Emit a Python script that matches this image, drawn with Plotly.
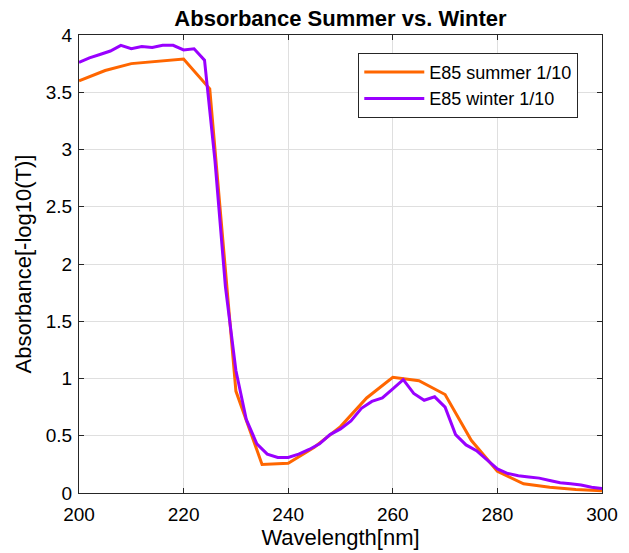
import plotly.graph_objects as go

summer_x = [200, 205, 210, 215, 220, 225, 230, 235, 240, 245, 250, 255, 260, 265, 270, 275, 280, 285, 290, 295, 300]
summer_y = [3.60, 3.69, 3.75, 3.77, 3.79, 3.53, 0.89, 0.25, 0.26, 0.40, 0.58, 0.83, 1.01, 0.98, 0.86, 0.46, 0.19, 0.08, 0.05, 0.03, 0.02]

winter_x = [200, 202, 204, 206, 208, 210, 212, 214, 216, 218, 220, 222, 224, 226, 228, 230,
            232, 234, 236, 238, 240, 242, 244, 246, 248, 250, 252, 254, 256, 258, 260,
            262, 264, 266, 268, 270, 272, 274, 276, 278, 280, 282, 284, 286, 288, 290,
            292, 294, 296, 298, 300]
winter_y = [3.76, 3.80, 3.83, 3.86, 3.91, 3.88, 3.90, 3.89, 3.91, 3.91, 3.87, 3.88, 3.78, 2.90, 1.80, 1.07,
            0.64, 0.43, 0.34, 0.31, 0.31, 0.34, 0.38, 0.43, 0.51, 0.56, 0.63, 0.74, 0.80, 0.83, 0.91,
            0.99, 0.87, 0.81, 0.84, 0.75, 0.51, 0.42, 0.37, 0.29, 0.21, 0.17, 0.15, 0.14, 0.13, 0.11,
            0.09, 0.08, 0.07, 0.05, 0.04]

x_ticks = [200, 220, 240, 260, 280, 300]
y_ticks = [0, 0.5, 1, 1.5, 2, 2.5, 3, 3.5, 4]
y_labels = ["0", "0.5", "1", "1.5", "2", "2.5", "3", "3.5", "4"]

FONT = "Liberation Sans, Arial, Helvetica"

fig = go.Figure()
fig.add_trace(go.Scatter(x=summer_x, y=summer_y, mode="lines", name="E85 summer 1/10",
                         line=dict(color="#FF6600", width=3)))
fig.add_trace(go.Scatter(x=winter_x, y=winter_y, mode="lines", name="E85 winter 1/10",
                         line=dict(color="#9900FF", width=3)))

axis_common = dict(showline=True, linecolor="#262626", linewidth=1, mirror="ticks",
                   ticks="inside", ticklen=5, tickcolor="#262626",
                   showgrid=True, gridcolor="#DFDFDF", gridwidth=1, zeroline=False,
                   tickfont=dict(family=FONT, size=19, color="#000000"))

fig.update_layout(
    width=629, height=553,
    margin=dict(l=79, r=27, t=35, b=60),
    paper_bgcolor="white", plot_bgcolor="white",
    title=dict(text="<b>Absorbance Summer vs. Winter</b>", x=(79 + 602) / 2 / 629, xanchor="center",
               y=1 - 18 / 553, yanchor="middle",
               font=dict(family=FONT, size=22, color="#000000")),
    xaxis=dict(range=[200, 300], tickvals=x_ticks, ticklabelstandoff=4,
               title=dict(text="Wavelength[nm]", standoff=2,
                          font=dict(family=FONT, size=22, color="#000000")),
               **axis_common),
    yaxis=dict(range=[0, 4], tickvals=y_ticks, ticktext=y_labels, ticklabelstandoff=2,
               title=dict(text="Absorbance[-log10(T)]", standoff=8,
                          font=dict(family=FONT, size=22, color="#000000")),
               **axis_common),
    legend=dict(x=0.534, y=0.961, xanchor="left", yanchor="top",
                bgcolor="white", bordercolor="#262626", borderwidth=1,
                font=dict(family=FONT, size=18, color="#000000"),
                itemwidth=60, tracegroupgap=0),
    showlegend=True,
)

fig.write_html("out.html")
